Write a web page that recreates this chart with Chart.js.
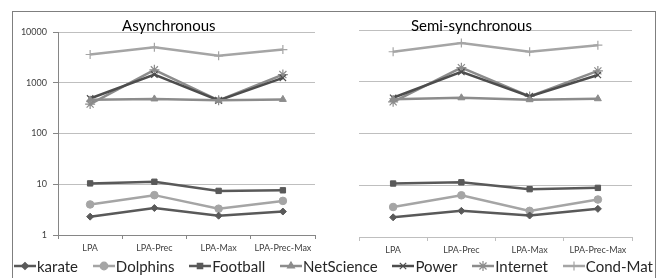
<!DOCTYPE html>
<html lang="en">
<head>
<meta charset="UTF-8">
<title>LPA variants</title>
<script src="https://cdn.jsdelivr.net/npm/chart.js"></script>
<style>
    body { margin: 0; background: #fff; width: 663px; height: 278px; overflow: hidden; position: relative; font-family: Lato, sans-serif; }
    .frame { position: absolute; left: 12px; top: 11px; width: 642px; height: 300px; border: 1px solid #7f7f7f; }
    .panel { position: absolute; top: 11px; }
    .titulo { position: absolute; top: 16px; font-size: 15px; color: #000; white-space: nowrap; }
    #leyenda { position: absolute; left: 14px; right: 10px; top: 257px; display: flex; justify-content: space-between; font-size: 15px; color: #262626; }
    #leyenda span { display: flex; align-items: center; }
    #leyenda canvas { margin-right: 1px; }
</style>
</head>
<body>
<div class="frame"></div>
<div class="panel" style="left:12px;width:318px;height:250px"><canvas id="asyncChart"></canvas></div>
<div class="panel" style="left:330px;width:325px;height:252px"><canvas id="semiChart"></canvas></div>
<div class="titulo" style="left:122px">Asynchronous</div>
<div class="titulo" style="left:411px">Semi-synchronous</div>
<div id="leyenda"></div>

<script>
    // Datos
    const categorias = ['LPA', 'LPA-Prec', 'LPA-Max', 'LPA-Prec-Max'];
    const redes = ['karate', 'Dolphins', 'Football', 'NetScience', 'Power', 'Internet', 'Cond-Mat'];
    const marcasY = [1, 10, 100, 1000, 10000];

    // Asynchronous
    const asyncKarate = [2.3, 3.4, 2.4, 2.9];
    const asyncDolphins = [4.0, 6.1, 3.3, 4.7];
    const asyncFootball = [10.4, 11.2, 7.4, 7.6];
    const asyncNetScience = [460, 480, 450, 470];
    const asyncPower = [490, 1450, 450, 1250];
    const asyncInternet = [380, 1800, 450, 1450];
    const asyncCondMat = [3600, 5000, 3400, 4500];

    // Semi-synchronous
    const semiKarate = [2.4, 3.2, 2.6, 3.5];
    const semiDolphins = [3.8, 6.4, 3.2, 5.3];
    const semiFootball = [10.8, 11.4, 8.4, 8.9];
    const semiNetScience = [460, 490, 450, 470];
    const semiPower = [490, 1550, 520, 1350];
    const semiInternet = [410, 1870, 520, 1620];
    const semiCondMat = [3800, 5600, 3800, 5100];

    // Estilos de cada serie
    const estilos = [
        { color: '#595959', punto: 'rectRot', radio: 3.5 },
        { color: '#a5a5a5', punto: 'circle', radio: 3.8 },
        { color: '#595959', punto: 'rect', radio: 3.8 },
        { color: '#8c8c8c', punto: 'triangle', radio: 4 },
        { color: '#4d4d4d', punto: 'crossRot', radio: 4.5 },
        { color: '#8c8c8c', punto: 'star', radio: 5 },
        { color: '#a5a5a5', punto: 'cross', radio: 4.5 }
    ];

    function armarDatasets(series) {
        return series.map((valores, i) => {
            const e = estilos[i];
            const cruz = ['crossRot', 'star', 'cross'].includes(e.punto);
            return {
                label: redes[i],
                data: valores,
                borderColor: e.color,
                backgroundColor: e.color,
                borderWidth: 2.5,
                pointStyle: e.punto,
                pointRadius: e.radio,
                pointBorderWidth: cruz ? 1.2 : 1,
                pointBorderColor: e.color,
                pointBackgroundColor: e.color,
                tension: 0
            };
        });
    }

    function opciones(conEtiquetasY, anchoY, padding) {
        return {
            responsive: true,
            maintainAspectRatio: false,
            animation: false,
            layout: { padding: padding },
            plugins: { legend: { display: false }, tooltip: { enabled: false } },
            scales: {
                x: {
                    offset: true,
                    grid: { offset: true, drawOnChartArea: false, drawTicks: true, tickLength: 4, tickColor: conEtiquetasY ? '#868686' : '#bfbfbf' },
                    border: { display: true, color: conEtiquetasY ? '#868686' : '#bfbfbf', width: 1 },
                    ticks: { color: '#404040', font: { family: 'Lato', size: 9 }, padding: 4, maxRotation: 0, autoSkip: false },
                    afterFit: (s) => { s.height = 26; }
                },
                y: {
                    type: 'logarithmic',
                    min: 1,
                    max: 10000,
                    afterBuildTicks: (s) => { s.ticks = marcasY.map(v => ({ value: v })); },
                    grid: { color: '#bfbfbf', lineWidth: 1, drawTicks: conEtiquetasY, tickLength: 5, tickColor: '#868686' },
                    border: { display: conEtiquetasY, color: '#868686', width: 1 },
                    ticks: {
                        display: conEtiquetasY,
                        color: '#404040',
                        font: { family: 'Lato', size: 9 },
                        padding: 6,
                        callback: (v) => String(v)
                    },
                    afterFit: (s) => { s.width = anchoY; }
                }
            }
        };
    }

    new Chart(document.getElementById('asyncChart'), {
        type: 'line',
        data: {
            labels: categorias,
            datasets: armarDatasets([asyncKarate, asyncDolphins, asyncFootball, asyncNetScience, asyncPower, asyncInternet, asyncCondMat])
        },
        options: opciones(true, 46, { top: 21, right: 15, left: 0, bottom: 0 })
    });

    new Chart(document.getElementById('semiChart'), {
        type: 'line',
        data: {
            labels: categorias,
            datasets: armarDatasets([semiKarate, semiDolphins, semiFootball, semiNetScience, semiPower, semiInternet, semiCondMat])
        },
        options: opciones(false, 29, { top: 19, right: 23, left: 0, bottom: 0 })
    });

    // Leyenda compartida
    const leyenda = document.getElementById('leyenda');
    redes.forEach((nombre, i) => {
        const e = estilos[i];
        const item = document.createElement('span');
        const c = document.createElement('canvas');
        c.width = 22; c.height = 14;
        const g = c.getContext('2d');
        g.strokeStyle = e.color;
        g.lineWidth = 2.5;
        g.beginPath(); g.moveTo(0, 7); g.lineTo(22, 7); g.stroke();
        g.fillStyle = e.color;
        g.lineWidth = 1.2;
        Chart.helpers.drawPoint(g, { pointStyle: e.punto, radius: e.radio, borderWidth: 1.2, rotation: 0 }, 11, 7);
        item.appendChild(c);
        item.appendChild(document.createTextNode(nombre));
        leyenda.appendChild(item);
    });
</script>
</body>
</html>
